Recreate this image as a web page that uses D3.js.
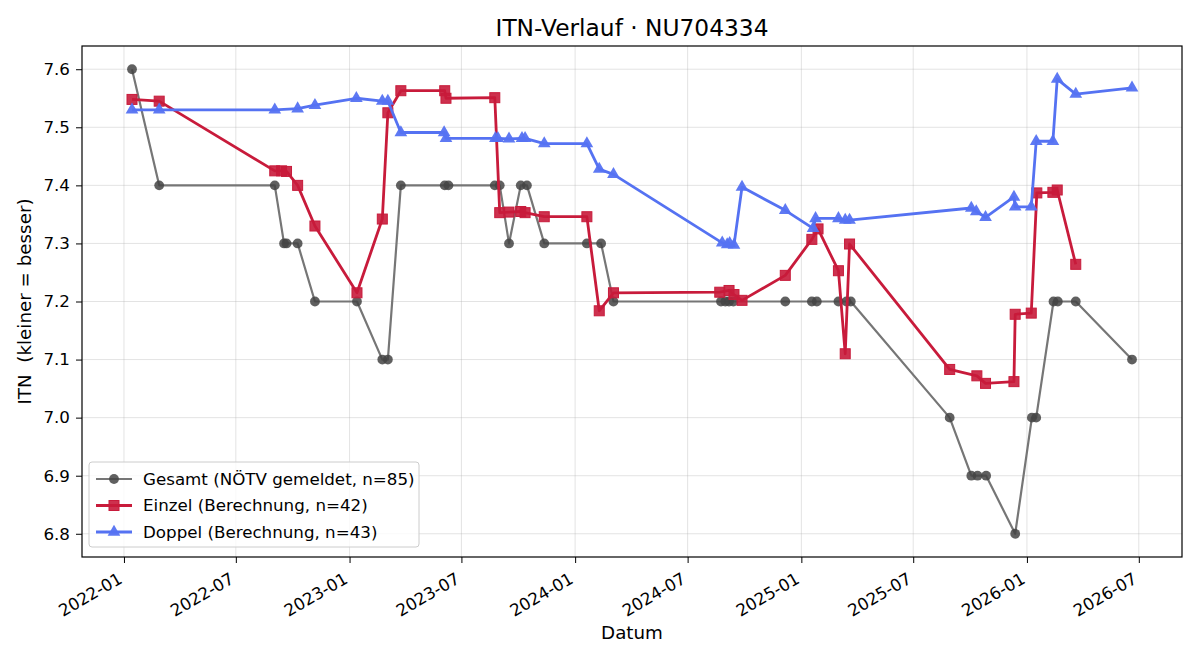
<!DOCTYPE html>
<html>
<head>
<meta charset="utf-8">
<script src="https://cdn.jsdelivr.net/npm/d3@7"></script>
<style>
  body { margin: 0; background: #fff; }
  svg { font-family: "DejaVu Sans", sans-serif; }
</style>
</head>
<body>
<svg id="chart" width="1200" height="660"></svg>
<script>
// Gesamt (NÖTV gemeldet)
var gesamtDates = ["2022-01-14","2022-02-27","2022-09-02","2022-09-17","2022-09-21","2022-10-09","2022-11-06",
  "2023-01-13","2023-02-23","2023-03-04","2023-03-25","2023-06-04","2023-06-10","2023-08-24","2023-09-01",
  "2023-09-16","2023-10-05","2023-10-15","2023-11-12","2024-01-20","2024-02-12","2024-03-03","2024-08-24",
  "2024-08-31","2024-09-06","2024-09-13","2024-12-06","2025-01-18","2025-01-26","2025-03-02","2025-03-15",
  "2025-03-22","2025-08-29","2025-10-03","2025-10-13","2025-10-27","2025-12-13","2026-01-09","2026-01-16",
  "2026-02-13","2026-02-20","2026-03-21","2026-06-20"]
var gesamtValues = [7.6,7.4,7.4,7.3,7.3,7.3,7.2,
  7.2,7.1,7.1,7.4,7.4,7.4,7.4,7.4,
  7.3,7.4,7.4,7.3,7.3,7.3,7.2,7.2,
  7.2,7.2,7.2,7.2,7.2,7.2,7.2,7.2,
  7.2,7.0,6.9,6.9,6.9,6.8,7.0,7.0,
  7.2,7.2,7.2,7.1]

// Einzel (Berechnung)
var einzelDates = ["2022-01-14","2022-02-27","2022-09-02","2022-09-13","2022-09-21","2022-10-09","2022-11-06",
  "2023-01-13","2023-02-23","2023-03-04","2023-03-25","2023-06-04","2023-06-06","2023-08-24","2023-09-01",
  "2023-09-16","2023-10-05","2023-10-12","2023-11-12","2024-01-20","2024-02-09","2024-03-03","2024-08-22",
  "2024-09-06","2024-09-14","2024-09-27","2024-12-06","2025-01-18","2025-01-28","2025-03-02","2025-03-13",
  "2025-03-20","2025-08-29","2025-10-12","2025-10-26","2025-12-11","2025-12-13","2026-01-08","2026-01-17",
  "2026-02-12","2026-02-19","2026-03-21"]
var einzelValues = [7.548,7.545,7.425,7.425,7.424,7.400,7.330,
  7.215,7.342,7.525,7.563,7.563,7.550,7.551,7.353,
  7.354,7.355,7.353,7.346,7.346,7.184,7.215,7.216,
  7.219,7.212,7.202,7.245,7.307,7.325,7.253,7.110,
  7.299,7.083,7.072,7.059,7.062,7.178,7.180,7.387,
  7.388,7.392,7.264]

// Doppel (Berechnung)
var doppelDates = ["2022-01-14","2022-02-27","2022-09-02","2022-10-09","2022-11-06","2023-01-12","2023-02-23",
  "2023-03-04","2023-03-25","2023-06-03","2023-06-06","2023-08-25","2023-08-29","2023-09-16","2023-10-07",
  "2023-10-12","2023-11-12","2024-01-20","2024-02-09","2024-03-03","2024-08-26","2024-09-03","2024-09-07",
  "2024-09-14","2024-09-27","2024-12-06","2025-01-20","2025-01-24","2025-03-02","2025-03-13","2025-03-20",
  "2025-10-03","2025-10-11","2025-10-26","2025-12-11","2025-12-13","2026-01-08","2026-01-16","2026-02-12",
  "2026-02-19","2026-03-21","2026-06-20"]
var doppelValues = [7.530,7.530,7.530,7.532,7.538,7.550,7.545,
  7.545,7.491,7.491,7.481,7.481,7.481,7.480,7.481,
  7.481,7.472,7.472,7.428,7.419,7.301,7.298,7.300,
  7.297,7.397,7.357,7.326,7.343,7.343,7.340,7.340,
  7.361,7.355,7.345,7.380,7.363,7.363,7.476,7.476,
  7.583,7.557,7.568]

var yTicks = [6.8,6.9,7.0,7.1,7.2,7.3,7.4,7.5,7.6]
var legendLabels = ["Gesamt (NÖTV gemeldet, n=85)", "Einzel (Berechnung, n=42)", "Doppel (Berechnung, n=43)"]

var svg = d3.select("#chart")
var mLeft = 82, mRight = 1182, mTop = 46, mBottom = 557
var parse = d3.utcParse("%Y-%m-%d")

function toPoints(dates, values){
    return dates.map(function(d,i){ return {date: parse(d), value: values[i]} })
}
var series = [
  {name: legendLabels[0], data: toPoints(gesamtDates, gesamtValues), line: "#767676", mark: "#444444", shape: "circle"},
  {name: legendLabels[1], data: toPoints(einzelDates, einzelValues), line: "#c81b3b", mark: "#c81b3b", shape: "square"},
  {name: legendLabels[2], data: toPoints(doppelDates, doppelValues), line: "#5572f2", mark: "#5572f2", shape: "triangle"}
]

var allPts = [].concat.apply([], series.map(function(s){return s.data}))
var xExt = d3.extent(allPts, function(d){return d.date})
var pad = (xExt[1] - xExt[0]) * 0.05
var yExt = d3.extent(allPts, function(d){return d.value})
var ypad = (yExt[1] - yExt[0]) * 0.05

var x = d3.scaleUtc()
    .domain([new Date(+xExt[0] - pad), new Date(+xExt[1] + pad)])
    .range([mLeft, mRight])
var y = d3.scaleLinear()
    .domain([yExt[0] - ypad, yExt[1] + ypad])
    .range([mBottom, mTop])

var xTickVals = x.ticks(d3.utcMonth.every(6))

// grid
svg.append('g').selectAll('line.gx')
    .data(xTickVals).enter().append('line')
    .attr('x1', function(d){return x(d)}).attr('x2', function(d){return x(d)})
    .attr('y1', mTop).attr('y2', mBottom)
    .attr('stroke', '#b0b0b0').attr('stroke-opacity', 0.35).attr('stroke-width', 1)
svg.append('g').selectAll('line.gy')
    .data(yTicks).enter().append('line')
    .attr('x1', mLeft).attr('x2', mRight)
    .attr('y1', function(d){return y(d)}).attr('y2', function(d){return y(d)})
    .attr('stroke', '#b0b0b0').attr('stroke-opacity', 0.35).attr('stroke-width', 1)

// axes
var xAxis = svg.append('g')
    .attr('transform', 'translate(0,' + mBottom + ')')
    .call(d3.axisBottom(x).tickValues(xTickVals).tickFormat(d3.utcFormat("%Y-%m")).tickSizeOuter(0).tickSize(6))
xAxis.select('.domain').remove()
xAxis.selectAll('text')
    .attr('font-size', 16.7).attr('font-family', '"DejaVu Sans", sans-serif').attr('fill', '#000')
    .attr('text-anchor', 'end')
    .attr('dy', '0.35em').attr('y', null)
    .attr('transform', 'translate(-4,20) rotate(-30)')

var yAxis = svg.append('g')
    .attr('transform', 'translate(' + mLeft + ',0)')
    .call(d3.axisLeft(y).tickValues(yTicks).tickFormat(d3.format(".1f")).tickSizeOuter(0).tickSize(6))
yAxis.select('.domain').remove()
yAxis.selectAll('text')
    .attr('font-size', 16.7).attr('font-family', '"DejaVu Sans", sans-serif').attr('fill', '#000')
    .attr('x', -12)

svg.append('rect')
    .attr('x', mLeft).attr('y', mTop)
    .attr('width', mRight - mLeft).attr('height', mBottom - mTop)
    .attr('fill', 'none').attr('stroke', '#000').attr('stroke-width', 1.2)

// series
var line = d3.line().x(function(d){return x(d.date)}).y(function(d){return y(d.value)})

function drawMarker(sel, shape, color){
    if (shape === 'circle') {
        sel.append('circle').attr('r', 4.9).attr('fill', color).attr('opacity', 0.85)
    } else if (shape === 'square') {
        sel.append('rect').attr('x', -5).attr('y', -5).attr('width', 10).attr('height', 10)
            .attr('fill', color).attr('stroke', color).attr('stroke-width', 1).attr('fill-opacity', 0.9)
    } else {
        sel.append('path').attr('d', d3.symbol().type(d3.symbolTriangle).size(70)())
            .attr('fill', color).attr('opacity', 0.95)
    }
}

series.forEach(function(s){
    var g = svg.append('g')
    g.append('path')
        .datum(s.data)
        .attr('d', line)
        .attr('fill', 'none')
        .attr('stroke', s.line)
        .attr('stroke-width', s.shape === 'circle' ? 2.2 : 2.8)
        .attr('stroke-linejoin', 'round')
    g.selectAll('g.pt')
        .data(s.data).enter().append('g')
        .attr('transform', function(d){return 'translate(' + x(d.date) + ',' + y(d.value) + ')'})
        .each(function(){ drawMarker(d3.select(this), s.shape, s.mark) })
})

// legend
var lg = svg.append('g').attr('transform', 'translate(89,462)')
lg.append('rect').attr('width', 330).attr('height', 85).attr('rx', 3)
    .attr('fill', '#fff').attr('fill-opacity', 0.8).attr('stroke', '#cccccc')
series.forEach(function(s, i){
    var yy = 17 + i * 26.5
    lg.append('line').attr('x1', 7).attr('x2', 43).attr('y1', yy).attr('y2', yy)
        .attr('stroke', s.line).attr('stroke-width', s.shape === 'circle' ? 2.2 : 2.8)
    var m = lg.append('g').attr('transform', 'translate(25,' + yy + ')')
    drawMarker(m, s.shape, s.mark)
    lg.append('text').attr('x', 54).attr('y', yy).attr('dy', '0.35em')
        .attr('font-size', 16.7).text(s.name)
})

// titles
svg.append('text').attr('x', (mLeft + mRight) / 2).attr('y', 36)
    .attr('text-anchor', 'middle').attr('font-size', 23.3).text("ITN-Verlauf · NU704334")
svg.append('text').attr('x', (mLeft + mRight) / 2).attr('y', 639)
    .attr('text-anchor', 'middle').attr('font-size', 18.3).text("Datum")
svg.append('text').attr('transform', 'translate(31,' + ((mTop + mBottom) / 2) + ') rotate(-90)')
    .attr('text-anchor', 'middle').attr('font-size', 18.3)
    .style('white-space', 'pre').text("ITN  (kleiner = besser)")
</script>
</body>
</html>
